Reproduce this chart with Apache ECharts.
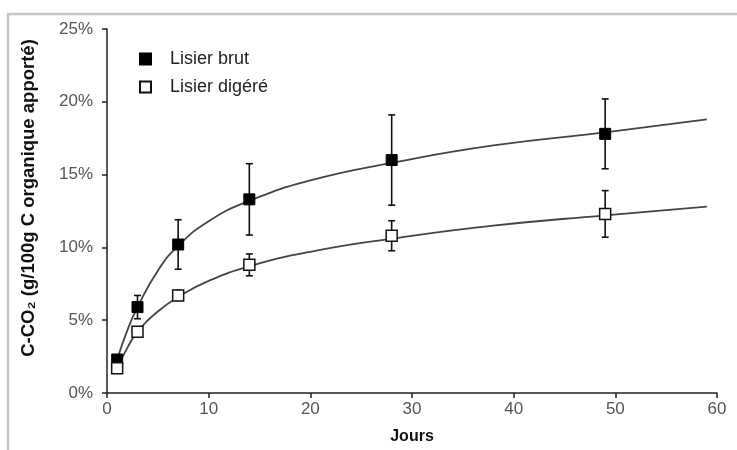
<!DOCTYPE html>
<html>
<head>
<meta charset="utf-8">
<script src="https://cdn.jsdelivr.net/npm/echarts@6/dist/echarts.min.js"></script>
<style>html,body{margin:0;padding:0;background:#fff}#c{width:737px;height:450px}</style>
</head>
<body>
<div id="c"></div>
<script>
// Measured days
const days = [1, 3, 7, 14, 28, 49];
// Lisier brut (% of organic C applied)
const brutMean = [2.3, 5.9, 10.2, 13.3, 16.0, 17.8];
const brutErr = [0.0, 0.8, 1.7, 2.45, 3.1, 2.4];
// Lisier digéré
const digMean = [1.7, 4.2, 6.7, 8.8, 10.8, 12.3];
const digErr = [0.0, 0.2, 0.35, 0.75, 1.03, 1.6];
// Fitted curves
const curveDays = [1, 2, 3, 5, 7, 10, 14, 20, 28, 38, 49, 59];
const brutCurve = [2.3, 4.3, 5.9, 8.4, 10.1, 11.8, 13.2, 14.6, 15.8, 17.0, 17.9, 18.8];
const digCurve = [1.7, 3.1, 4.2, 5.6, 6.6, 7.7, 8.7, 9.7, 10.6, 11.5, 12.2, 12.8];
// Axis ticks
const xTicks = {min: 0, max: 60, interval: 10};
const yTicks = {min: 0, max: 25, interval: 5};
const seriesNames = ['Lisier brut', 'Lisier digéré'];

const FONT = "'Liberation Sans', Arial, sans-serif";
const zip = (a, b) => a.map((v, i) => [v, b[i]]);
const errData = (m, e) => days.map((d, i) => [d, m[i] - e[i], m[i] + e[i]]);

function errRender(params, api) {
  const x = api.value(0), lo = api.value(1), hi = api.value(2);
  if (hi - lo <= 0) return null;
  const p1 = api.coord([x, lo]), p2 = api.coord([x, hi]);
  const w = 3.5;
  const st = {stroke: '#111', lineWidth: 1.6};
  return {type: 'group', children: [
    {type: 'line', shape: {x1: p1[0], y1: p1[1], x2: p2[0], y2: p2[1]}, style: st},
    {type: 'line', shape: {x1: p1[0] - w, y1: p1[1], x2: p1[0] + w, y2: p1[1]}, style: st},
    {type: 'line', shape: {x1: p2[0] - w, y1: p2[1], x2: p2[0] + w, y2: p2[1]}, style: st}
  ]};
}

const chart = echarts.init(document.getElementById('c'), null, {renderer: 'canvas'});
const axisStyle = {lineStyle: {color: '#222', width: 1.5}};
chart.setOption({
  animation: false,
  backgroundColor: '#fff',
  grid: {left: 107, right: 20, top: 29, bottom: 55, containLabel: false},
  xAxis: {
    type: 'value', min: xTicks.min, max: xTicks.max, interval: xTicks.interval,
    name: 'Jours', nameLocation: 'middle', nameGap: 36,
    nameTextStyle: {fontFamily: FONT, fontSize: 16, fontWeight: 'bold', color: '#111'},
    axisLine: axisStyle, axisTick: {show: true, length: 5, lineStyle: {color: '#222', width: 1.5}},
    axisLabel: {fontFamily: FONT, fontSize: 17, color: '#555', margin: 8},
    splitLine: {show: false}
  },
  yAxis: {
    type: 'value', min: yTicks.min, max: yTicks.max, interval: yTicks.interval,
    axisLine: {show: true, lineStyle: {color: '#222', width: 1.5}},
    axisTick: {show: true, length: 5, lineStyle: {color: '#222', width: 1.5}},
    axisLabel: {fontFamily: FONT, fontSize: 17, color: '#555', margin: 14, formatter: '{value}%'},
    splitLine: {show: false}
  },
  legend: {
    orient: 'vertical', left: 134, top: 45, itemWidth: 11, itemHeight: 11, itemGap: 10,
    data: seriesNames, selectedMode: false,
    textStyle: {fontFamily: FONT, fontSize: 18, color: '#222', lineHeight: 16, padding: [0, 0, 0, 14]}
  },
  graphic: [
    {type: 'rect', z: -10, silent: true, shape: {x: 8, y: 14, width: 780, height: 500},
     style: {fill: 'none', stroke: '#c6c6c6', lineWidth: 2.5}},
    {type: 'text', x: 29, y: 198, rotation: Math.PI / 2, silent: true,
     style: {text: 'C-CO₂ (g/100g C organique apporté)', fontFamily: FONT, fontSize: 18.5,
             fontWeight: 'bold', fill: '#111', align: 'center', verticalAlign: 'middle'}}
  ],
  series: [
    {type: 'line', name: 'curve brut', data: zip(curveDays, brutCurve), smooth: 0.5,
     showSymbol: false, symbol: 'none', lineStyle: {color: '#444', width: 1.8}, z: 1, silent: true},
    {type: 'line', name: 'curve dig', data: zip(curveDays, digCurve), smooth: 0.5,
     showSymbol: false, symbol: 'none', lineStyle: {color: '#444', width: 1.8}, z: 1, silent: true},
    {type: 'custom', name: 'err brut', data: errData(brutMean, brutErr), renderItem: errRender, z: 2,
     encode: {x: 0, y: [1, 2]}, silent: true},
    {type: 'custom', name: 'err dig', data: errData(digMean, digErr), renderItem: errRender, z: 2,
     encode: {x: 0, y: [1, 2]}, silent: true},
    {type: 'scatter', name: seriesNames[0], data: zip(days, brutMean), symbol: 'rect', symbolSize: 11,
     itemStyle: {color: '#000', borderColor: '#000', borderWidth: 1, opacity: 1}, z: 3},
    {type: 'scatter', name: seriesNames[1], data: zip(days, digMean), symbol: 'rect', symbolSize: 11,
     itemStyle: {color: '#fff', borderColor: '#111', borderWidth: 1.5, opacity: 1}, z: 4}
  ]
});
</script>
</body>
</html>
